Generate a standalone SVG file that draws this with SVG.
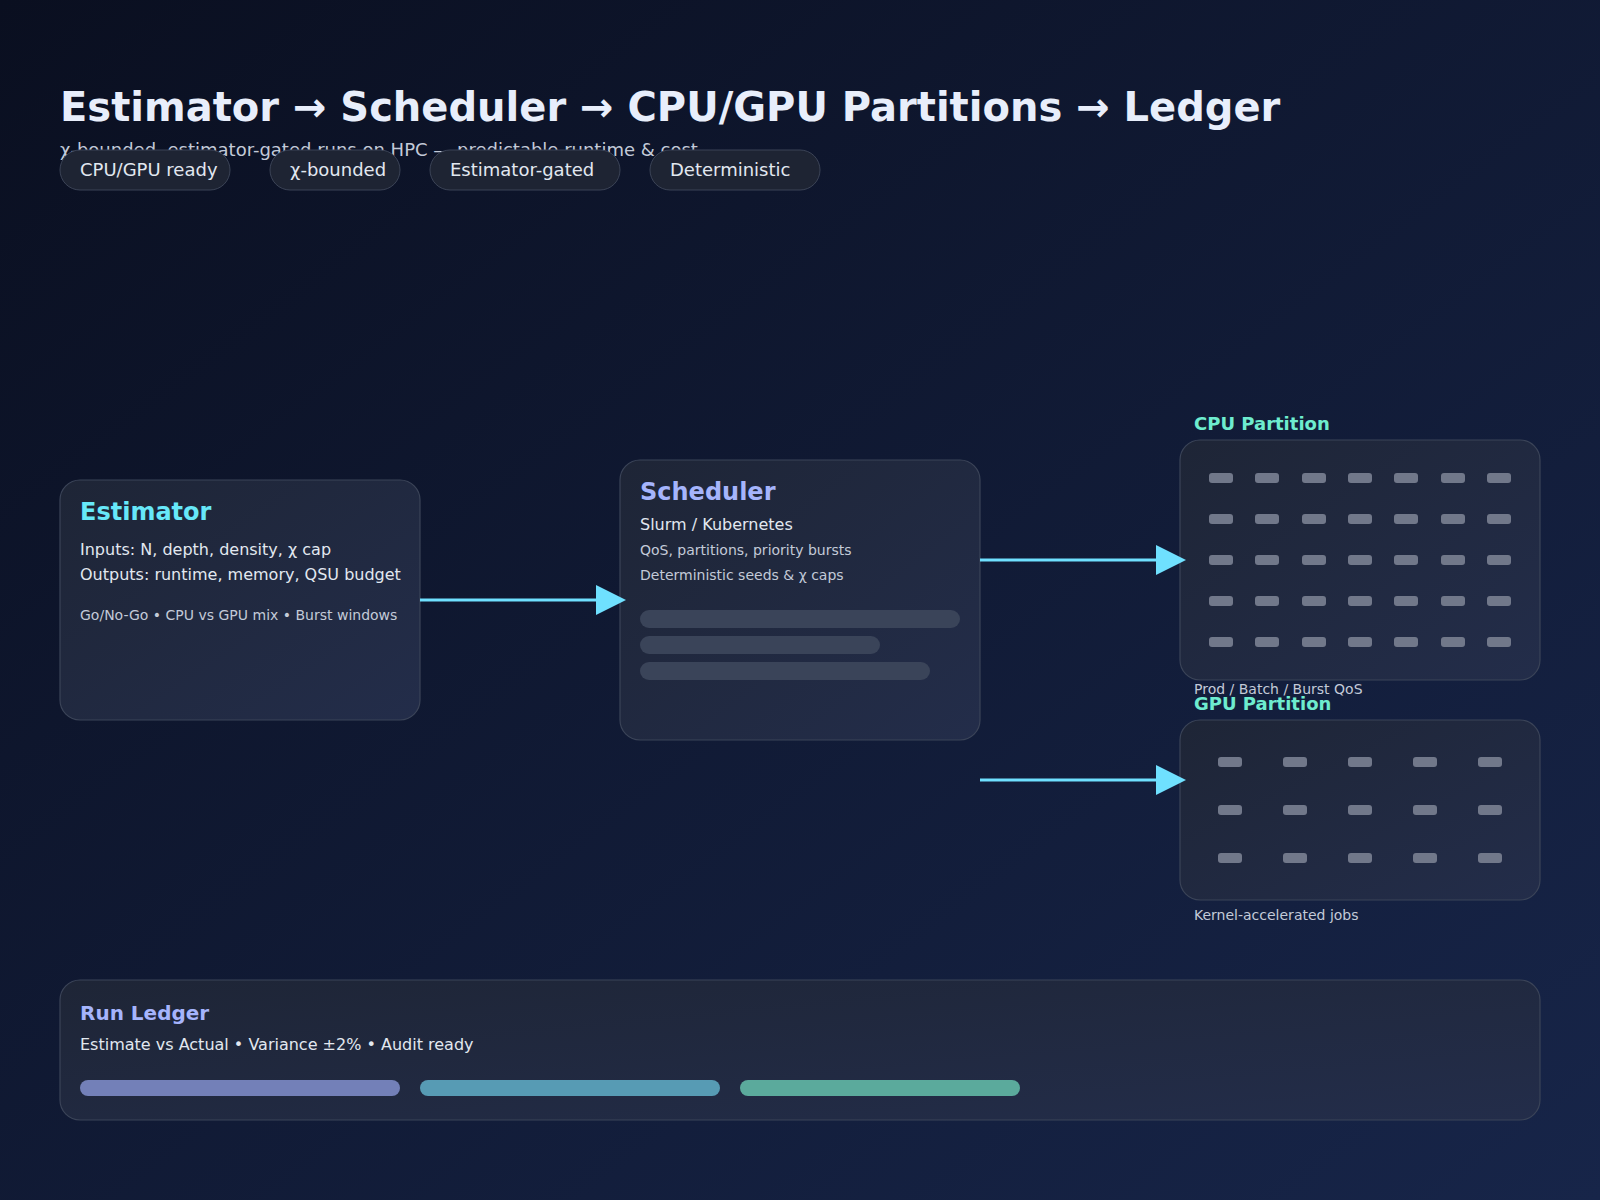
<svg xmlns="http://www.w3.org/2000/svg" width="1600" height="1200" viewBox="0 0 1600 1200">
<defs>
<linearGradient id="bg" x1="0" y1="0" x2="1" y2="1">
<stop offset="0" stop-color="#0a0f20"/>
<stop offset="1" stop-color="#172549"/>
</linearGradient>
<linearGradient id="card" x1="0" y1="0" x2="1" y2="1">
<stop offset="0" stop-color="#1e2536"/>
<stop offset="1" stop-color="#232d4a"/>
</linearGradient>
<marker id="arr" viewBox="0 0 30 30" refX="0" refY="15" markerWidth="30" markerHeight="30" markerUnits="userSpaceOnUse" orient="auto">
<path d="M0,0 L30,15 L0,30 Z" fill="#6fe0ff"/>
</marker>
<style>
text{font-family:"DejaVu Sans","Liberation Sans",sans-serif}
.title{font-size:40px;font-weight:bold;fill:#e8eefb}
.sub{font-size:18px;fill:#c3cad8}
.pill rect{fill:#1e2433;stroke:#3b4356;stroke-width:1}
.pill text{font-size:18px;fill:#e2e8f0}
.card{fill:url(#card);stroke:#3b4458;stroke-width:1.2}
.h{font-size:24px;font-weight:bold}
.b{font-size:16px;fill:#e2e8f0}
.s{font-size:14px;fill:#c3cad8}
.ph{font-size:18px;font-weight:bold;fill:#6eeccf}
.cell{fill:#71788a}
.bar{fill:#3a4459}
.conn{stroke:#6fe0ff;stroke-width:3;fill:none}
</style>
</defs>
<rect width="1600" height="1200" fill="url(#bg)"/>

<text class="title" x="60" y="121">Estimator → Scheduler → CPU/GPU Partitions → Ledger</text>
<text class="sub" x="60" y="156">χ-bounded, estimator-gated runs on HPC — predictable runtime &amp; cost</text>

<g id="pills" class="pill">
<rect x="60" y="150" width="170" height="40" rx="20"/>
<text x="80" y="176">CPU/GPU ready</text>
<rect x="270" y="150" width="130" height="40" rx="20"/>
<text x="290" y="176">χ-bounded</text>
<rect x="430" y="150" width="190" height="40" rx="20"/>
<text x="450" y="176">Estimator-gated</text>
<rect x="650" y="150" width="170" height="40" rx="20"/>
<text x="670" y="176">Deterministic</text>
</g>

<g id="estimator">
<rect class="card" x="60" y="480" width="360" height="240" rx="20"/>
<text class="h" x="80" y="520" fill="#67e8f9">Estimator</text>
<text class="b" x="80" y="555">Inputs: N, depth, density, χ cap</text>
<text class="b" x="80" y="580">Outputs: runtime, memory, QSU budget</text>
<text class="s" x="80" y="620">Go/No-Go • CPU vs GPU mix • Burst windows</text>
</g>

<g id="scheduler">
<rect class="card" x="620" y="460" width="360" height="280" rx="20"/>
<text class="h" x="640" y="500" fill="#a5b4fc">Scheduler</text>
<text class="b" x="640" y="530">Slurm / Kubernetes</text>
<text class="s" x="640" y="555">QoS, partitions, priority bursts</text>
<text class="s" x="640" y="580">Deterministic seeds &amp; χ caps</text>
<rect class="bar" x="640" y="610" width="320" height="18" rx="9"/>
<rect class="bar" x="640" y="636" width="240" height="18" rx="9"/>
<rect class="bar" x="640" y="662" width="290" height="18" rx="9"/>
</g>

<g id="cpu">
<text class="ph" x="1194" y="430">CPU Partition</text>
<rect class="card" x="1180" y="440" width="360" height="240" rx="20"/>
<g class="cell">
<rect x="1209" y="473" width="24" height="10" rx="3"/><rect x="1255" y="473" width="24" height="10" rx="3"/><rect x="1302" y="473" width="24" height="10" rx="3"/><rect x="1348" y="473" width="24" height="10" rx="3"/><rect x="1394" y="473" width="24" height="10" rx="3"/><rect x="1441" y="473" width="24" height="10" rx="3"/><rect x="1487" y="473" width="24" height="10" rx="3"/>
<rect x="1209" y="514" width="24" height="10" rx="3"/><rect x="1255" y="514" width="24" height="10" rx="3"/><rect x="1302" y="514" width="24" height="10" rx="3"/><rect x="1348" y="514" width="24" height="10" rx="3"/><rect x="1394" y="514" width="24" height="10" rx="3"/><rect x="1441" y="514" width="24" height="10" rx="3"/><rect x="1487" y="514" width="24" height="10" rx="3"/>
<rect x="1209" y="555" width="24" height="10" rx="3"/><rect x="1255" y="555" width="24" height="10" rx="3"/><rect x="1302" y="555" width="24" height="10" rx="3"/><rect x="1348" y="555" width="24" height="10" rx="3"/><rect x="1394" y="555" width="24" height="10" rx="3"/><rect x="1441" y="555" width="24" height="10" rx="3"/><rect x="1487" y="555" width="24" height="10" rx="3"/>
<rect x="1209" y="596" width="24" height="10" rx="3"/><rect x="1255" y="596" width="24" height="10" rx="3"/><rect x="1302" y="596" width="24" height="10" rx="3"/><rect x="1348" y="596" width="24" height="10" rx="3"/><rect x="1394" y="596" width="24" height="10" rx="3"/><rect x="1441" y="596" width="24" height="10" rx="3"/><rect x="1487" y="596" width="24" height="10" rx="3"/>
<rect x="1209" y="637" width="24" height="10" rx="3"/><rect x="1255" y="637" width="24" height="10" rx="3"/><rect x="1302" y="637" width="24" height="10" rx="3"/><rect x="1348" y="637" width="24" height="10" rx="3"/><rect x="1394" y="637" width="24" height="10" rx="3"/><rect x="1441" y="637" width="24" height="10" rx="3"/><rect x="1487" y="637" width="24" height="10" rx="3"/>
</g>
<text class="s" x="1194" y="694">Prod / Batch / Burst QoS</text>
</g>

<g id="gpu">
<text class="ph" x="1194" y="710">GPU Partition</text>
<rect class="card" x="1180" y="720" width="360" height="180" rx="20"/>
<g class="cell">
<rect x="1218" y="757" width="24" height="10" rx="3"/><rect x="1283" y="757" width="24" height="10" rx="3"/><rect x="1348" y="757" width="24" height="10" rx="3"/><rect x="1413" y="757" width="24" height="10" rx="3"/><rect x="1478" y="757" width="24" height="10" rx="3"/>
<rect x="1218" y="805" width="24" height="10" rx="3"/><rect x="1283" y="805" width="24" height="10" rx="3"/><rect x="1348" y="805" width="24" height="10" rx="3"/><rect x="1413" y="805" width="24" height="10" rx="3"/><rect x="1478" y="805" width="24" height="10" rx="3"/>
<rect x="1218" y="853" width="24" height="10" rx="3"/><rect x="1283" y="853" width="24" height="10" rx="3"/><rect x="1348" y="853" width="24" height="10" rx="3"/><rect x="1413" y="853" width="24" height="10" rx="3"/><rect x="1478" y="853" width="24" height="10" rx="3"/>
</g>
<text class="s" x="1194" y="920">Kernel-accelerated jobs</text>
</g>

<g id="ledger">
<rect class="card" x="60" y="980" width="1480" height="140" rx="20"/>
<text x="80" y="1020" font-size="20" font-weight="bold" fill="#a5b4fc">Run Ledger</text>
<text class="b" x="80" y="1050">Estimate vs Actual • Variance ±2% • Audit ready</text>
<rect x="80" y="1080" width="320" height="16" rx="8" fill="#7380b8"/>
<rect x="420" y="1080" width="300" height="16" rx="8" fill="#579bb4"/>
<rect x="740" y="1080" width="280" height="16" rx="8" fill="#5baa9c"/>
</g>

<g id="connectors">
<line class="conn" x1="420" y1="600" x2="596" y2="600" marker-end="url(#arr)"/>
<line class="conn" x1="980" y1="560" x2="1156" y2="560" marker-end="url(#arr)"/>
<line class="conn" x1="980" y1="780" x2="1156" y2="780" marker-end="url(#arr)"/>
</g>
</svg>
